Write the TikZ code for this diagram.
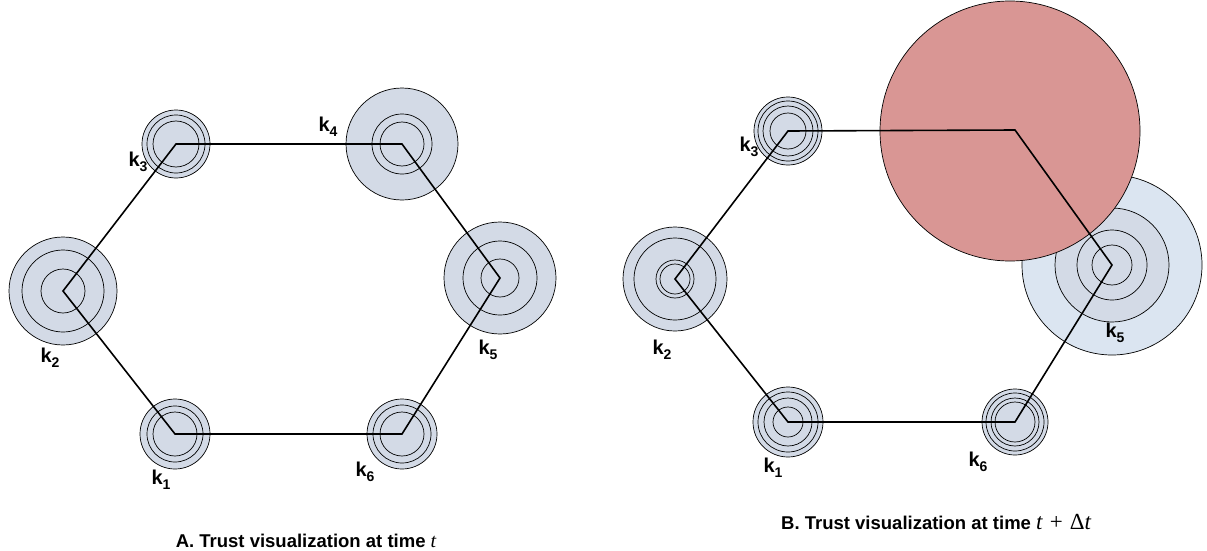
\documentclass[tikz,border=0pt]{standalone}
\usepackage{fontspec}
\setmainfont{Liberation Sans}
\newfontfamily\tfont{Liberation Serif}
\definecolor{nodefill}{HTML}{D3DAE6}
\definecolor{lightfill}{HTML}{DBE5F1}
\definecolor{redfill}{HTML}{D99694}
\newcommand{\klab}[1]{k\raisebox{-0.45ex}{\fontsize{14}{16}\selectfont #1}}
\begin{document}
\begin{tikzpicture}[x=1pt,y=-1pt,
  disc/.style={fill=nodefill,draw=black,line width=0.7pt},
  lightdisc/.style={fill=lightfill,draw=black,line width=0.7pt},
  reddisc/.style={fill=redfill,draw=black,line width=0.7pt},
  ring/.style={draw=black,line width=0.7pt},
  edge/.style={line width=1.6pt,line join=miter},
  klabel/.style={font=\bfseries\fontsize{20}{22}\selectfont,inner sep=0pt},
  caption/.style={font=\bfseries\fontsize{18.5}{20}\selectfont,inner sep=0pt}]
\useasboundingbox (0,0) rectangle (1207,551);
% ---------- left hexagon ----------
\coordinate (a1) at (175,434);
\coordinate (a2) at (63,291);
\coordinate (a3) at (176,144);
\coordinate (a4) at (402,144);
\coordinate (a5) at (500,278);
\coordinate (a6) at (402,434);
\draw[disc] (a1) circle[radius=35pt];
\draw[ring] (a1) circle[radius=28pt] (a1) circle[radius=22pt];
\draw[disc] (a2) circle[radius=54pt];
\draw[ring] (a2) circle[radius=41pt] (a2) circle[radius=22pt];
\draw[disc] (a3) circle[radius=34pt];
\draw[ring] (a3) circle[radius=29pt] (a3) circle[radius=23pt];
\draw[disc] (a4) circle[radius=56pt];
\draw[ring] (a4) circle[radius=30pt] (a4) circle[radius=22pt];
\draw[disc] (a5) circle[radius=56pt];
\draw[ring] (a5) circle[radius=37pt] (a5) circle[radius=19pt];
\draw[disc] (a6) circle[radius=35pt];
\draw[ring] (a6) circle[radius=29pt] (a6) circle[radius=22pt];
\draw[edge] (a1) -- (a6) -- (a5) -- (a4) -- (a3) -- (a2) -- cycle;
\node[klabel] (la1) at (161,480) {\klab{1}};
\node[klabel] (la2) at (50,358) {\klab{2}};
\node[klabel] (la3) at (138,162) {\klab{3}};
\node[klabel] (la4) at (328,127) {\klab{4}};
\node[klabel] (la5) at (488,350) {\klab{5}};
\node[klabel] (la6) at (365,472) {\klab{6}};
\node[caption] (capA) at (306,541) {A. Trust visualization at time {\tfont\mdseries\itshape\fontsize{20}{20}\selectfont t}};
% ---------- right hexagon ----------
\coordinate (b1) at (788,422);
\coordinate (b2) at (675,279);
\coordinate (b3) at (788,131);
\coordinate (b4) at (1015,130);
\coordinate (b5) at (1112,265);
\coordinate (b6) at (1015,422);
\draw[disc] (b1) circle[radius=35pt];
\draw[ring] (b1) circle[radius=30pt] (b1) circle[radius=24pt] (b1) circle[radius=15pt];
\draw[disc] (b2) circle[radius=52pt];
\draw[ring] (b2) circle[radius=41pt] (b2) circle[radius=19pt] (b2) circle[radius=15pt];
\draw[disc] (b3) circle[radius=34pt];
\draw[ring] (b3) circle[radius=30pt] (b3) circle[radius=25pt] (b3) circle[radius=18pt];
\draw[lightdisc] (b5) circle[radius=90pt];
\draw[disc] (b5) circle[radius=57pt];
\draw[ring] (b5) circle[radius=35pt] (b5) circle[radius=20pt];
\draw[disc] (b6) circle[radius=33pt];
\draw[ring] (b6) circle[radius=29pt] (b6) circle[radius=24pt] (b6) circle[radius=20pt];
\draw[reddisc] ([xshift=-5pt,yshift=-1pt]b4) circle[radius=130pt];
\draw[edge] (b1) -- (b6) -- (b5) -- (b4) -- (b3) -- (b2) -- cycle;
\node[klabel] (lb1) at (773,468) {\klab{1}};
\node[klabel] (lb2) at (662,350) {\klab{2}};
\node[klabel] (lb3) at (749,147) {\klab{3}};
\node[klabel] (lb5) at (1115,333) {\klab{5}};
\node[klabel] (lb6) at (978,462) {\klab{6}};
\node[caption,anchor=west] (capB) at (781,522) {B. Trust visualization at time {\tfont\mdseries\fontsize{23}{23}\selectfont\textit{t}\hspace{0.3em}+\hspace{0.3em}Δ\textit{t}}};
\end{tikzpicture}
\end{document}
